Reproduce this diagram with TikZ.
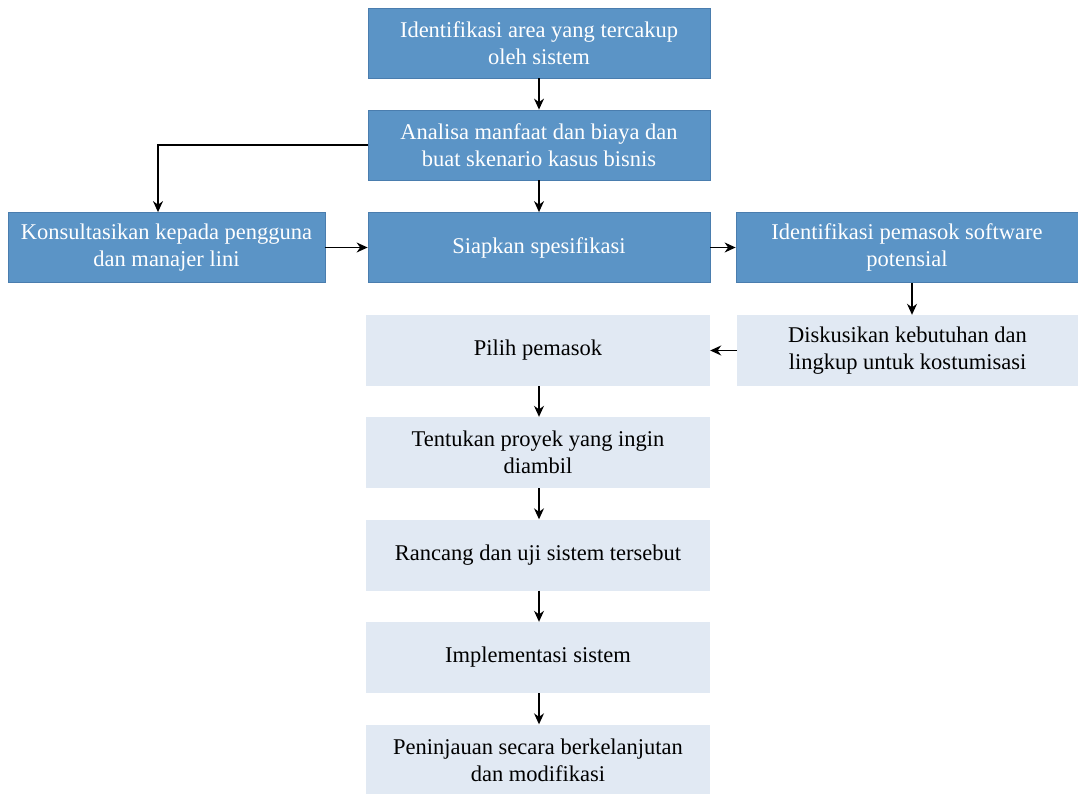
\documentclass[tikz,border=0pt]{standalone}
\usepackage{fontspec}
\setmainfont{Liberation Serif}
\usetikzlibrary{arrows.meta}
\definecolor{stepblue}{HTML}{5B94C6}
\definecolor{stepedge}{HTML}{4A7DAE}
\definecolor{steplight}{HTML}{E1E9F3}
\tikzset{
  x=1pt, y=-1pt,
  darkbox/.style={draw=stepedge, line width=0.8pt, fill=stepblue, text=white,
    minimum width=342pt, minimum height=70pt, align=center, inner sep=0pt,
    font=\fontsize{22.5}{27}\selectfont},
  lightbox/.style={fill=steplight, text=black,
    minimum width=344pt, minimum height=71pt, align=center, inner sep=0pt,
    font=\fontsize{22.5}{27}\selectfont},
  flow/.style={line width=1.3pt, -{Stealth[length=11pt,width=10pt]}}
}
\begin{document}
\begin{tikzpicture}
\useasboundingbox (0,0) rectangle (1078,794);
\fill[white] (0,0) rectangle (1078,794);

\node[darkbox] (area) at (539,43) {Identifikasi area yang tercakup\\oleh sistem};
\node[darkbox] (analisa) at (539,145) {Analisa manfaat dan biaya dan\\buat skenario kasus bisnis};
\node[darkbox, minimum width=317pt] (konsul) at (166.5,247.5) {Konsultasikan kepada pengguna\\dan manajer lini};
\node[darkbox] (siapkan) at (539,247.5) {Siapkan spesifikasi};
\node[darkbox] (pemasok) at (907,247.5) {Identifikasi pemasok software\\potensial};
\node[lightbox] (pilih) at (538,350.5) {Pilih pemasok};
\node[lightbox, minimum width=341pt] (diskusi) at (907.5,350.5) {Diskusikan kebutuhan dan\\lingkup untuk kostumisasi};
\node[lightbox] (tentukan) at (538,452.5) {Tentukan proyek yang ingin\\diambil};
\node[lightbox] (rancang) at (538,555) {Rancang dan uji sistem tersebut};
\node[lightbox] (impl) at (538,657.5) {Implementasi sistem};
\node[lightbox] (tinjau) at (538,760) {Peninjauan secara berkelanjutan\\dan modifikasi};

\draw[flow] (area.south -| 539,0) -- (analisa.north -| 539,0);
\draw[flow] (analisa.south -| 539,0) -- (siapkan.north -| 539,0);
\draw[flow] (analisa.west) -| (konsul.north -| 158,0);
\draw[flow] (konsul.east) -- (siapkan.west);
\draw[flow] (siapkan.east) -- (pemasok.west);
\draw[flow] (pemasok.south -| 912,0) -- (diskusi.north -| 912,0);
\draw[flow] (diskusi.west) -- (pilih.east);
\draw[flow] (pilih.south -| 539,0) -- (tentukan.north -| 539,0);
\draw[flow] (tentukan.south -| 539,0) -- (rancang.north -| 539,0);
\draw[flow] (rancang.south -| 539,0) -- (impl.north -| 539,0);
\draw[flow] (impl.south -| 539,0) -- (tinjau.north -| 539,0);
\end{tikzpicture}
\end{document}
